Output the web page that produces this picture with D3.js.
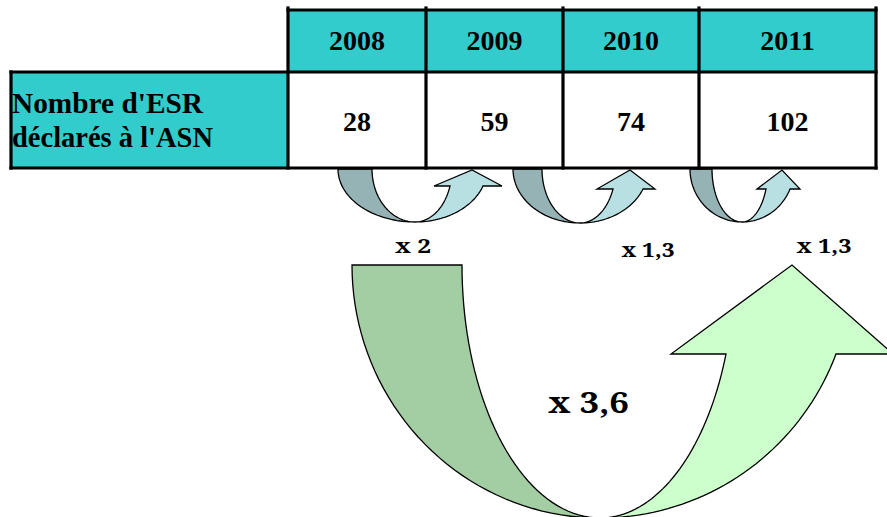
<!DOCTYPE html>
<html>
<head>
<meta charset="utf-8">
<script src="https://cdn.jsdelivr.net/npm/d3@7"></script>
<style>
  body { margin: 0; background: #fff; }
  svg { display: block; }
</style>
</head>
<body>
<svg id="chart" width="887" height="517"></svg>
<script>
// data
const years = ['2008', '2009', '2010', '2011']
const counts = [28, 59, 74, 102]
const rowLabel = ["Nombre d'ESR", "déclarés à l'ASN"]
const stepFactors = ['x 2', 'x 1,3', 'x 1,3']
const totalFactor = 'x 3,6'

// layout
const colEdges = [288, 426, 563, 699, 876]
const tableTop = 10, rowSplit = 72, tableBottom = 168, labelLeft = 11
const cyan = '#33CCCC'
const tableFont = '"Liberation Serif"'
const labelFont = '"Noto Serif"'

const svg = d3.select('#chart')

const xLeft = d3.scaleOrdinal().domain(years).range(colEdges.slice(0, -1))
const xRight = d3.scaleOrdinal().domain(years).range(colEdges.slice(1))
const xMid = (y) => (xLeft(y) + xRight(y)) / 2

// table fills
svg.append('rect')
  .attr('x', colEdges[0]).attr('y', tableTop)
  .attr('width', colEdges[4] - colEdges[0]).attr('height', rowSplit - tableTop)
  .attr('fill', cyan)
svg.append('rect')
  .attr('x', labelLeft).attr('y', rowSplit)
  .attr('width', colEdges[0] - labelLeft).attr('height', tableBottom - rowSplit)
  .attr('fill', cyan)

const lines = [
  [colEdges[0], tableTop, colEdges[4], tableTop],
  [labelLeft, rowSplit, colEdges[4], rowSplit],
  [labelLeft, tableBottom, colEdges[4], tableBottom],
  [labelLeft, rowSplit, labelLeft, tableBottom],
  ...colEdges.map((x) => [x, tableTop - 2, x, tableBottom]),
]

svg.append('g').selectAll('text')
  .data(years)
  .join('text')
  .attr('x', (d) => xMid(d))
  .attr('y', 50)
  .attr('text-anchor', 'middle')
  .style('font-family', tableFont)
  .style('font-weight', 'bold')
  .style('font-size', '28px')
  .text((d) => d)

svg.append('g').selectAll('text')
  .data(counts)
  .join('text')
  .attr('x', (d, i) => xMid(years[i]))
  .attr('y', 131)
  .attr('text-anchor', 'middle')
  .style('font-family', tableFont)
  .style('font-weight', 'bold')
  .style('font-size', '28px')
  .text((d) => d)

svg.append('g').selectAll('text')
  .data(rowLabel)
  .join('text')
  .attr('x', 12)
  .attr('y', (d, i) => 113 + i * 34)
  .attr('textLength', (d, i) => [191, 201][i])
  .attr('lengthAdjust', 'spacingAndGlyphs')
  .style('font-family', tableFont)
  .style('font-weight', 'bold')
  .style('font-size', '29px')
  .text((d) => d)

// U-turn arrows
function arc(cx, cy, rx, ry, a0, a1, n = 40) {
  return d3.range(n + 1).map((k) => {
    const a = a0 + (a1 - a0) * k / n
    return [cx + rx * Math.cos(a), cy + ry * Math.sin(a)]
  })
}

function uTurn(g, s, dark, light) {
  const ry = s.bottom - s.top
  const line = d3.line()
  // back half
  const back = arc(s.cx, s.top, s.cx - s.outerL, ry, Math.PI, Math.PI / 2)
    .concat(arc(s.cx, s.top, s.cx - s.innerL, ry, Math.PI / 2, Math.PI))
  g.append('path')
    .attr('d', line(back) + 'Z')
    .attr('fill', dark).attr('stroke', '#000').attr('stroke-width', 1.3)
  // front half with head
  const dy = s.headBase - s.top
  const aEnd = Math.asin(dy / ry)
  const k = Math.cos(aEnd)
  const front = arc(s.cx, s.top, (s.shaftOut - s.cx) / k, ry, Math.PI / 2, aEnd)
    .concat([[s.headR, s.headBase], [s.tipX, s.tipY], [s.headL, s.headBase]])
    .concat(arc(s.cx, s.top, (s.shaftIn - s.cx) / k, ry, aEnd, Math.PI / 2))
  g.append('path')
    .attr('d', line(front) + 'Z')
    .attr('fill', light).attr('stroke', '#000').attr('stroke-width', 1.3)
}

const smallArrows = [
  {top: 169, cx: 415, bottom: 222, outerL: 338, innerL: 372, headBase: 186,
    shaftIn: 450, shaftOut: 483, headL: 434, headR: 502, tipX: 472, tipY: 170},
  {top: 169, cx: 580, bottom: 223, outerL: 513, innerL: 542, headBase: 189,
    shaftIn: 613, shaftOut: 643, headL: 597, headR: 655, tipX: 630, tipY: 170},
  {top: 169, cx: 742, bottom: 222, outerL: 690, innerL: 712, headBase: 189,
    shaftIn: 766, shaftOut: 790, headL: 757, headR: 800, tipX: 782, tipY: 170},
]
const bigArrow = {top: 265, cx: 600, bottom: 518, outerL: 352, innerL: 462, headBase: 354,
  shaftIn: 726, shaftOut: 836, headL: 671, headR: 893, tipX: 792, tipY: 265}

const gArrows = svg.append('g')
smallArrows.forEach((s) => uTurn(gArrows, s, '#95B3B4', '#B8E0E2'))
uTurn(gArrows, bigArrow, '#A3CDA3', '#CCFFCC')

// table lines drawn over the arrow stems
svg.append('g').selectAll('line')
  .data(lines)
  .join('line')
  .attr('x1', (d) => d[0]).attr('y1', (d) => d[1])
  .attr('x2', (d) => d[2]).attr('y2', (d) => d[3])
  .attr('stroke', '#000')
  .attr('stroke-width', 3.2)
  .attr('stroke-linecap', 'square')

// factor labels
const stepPos = [[413, 253], [648, 257], [824, 253]]
const stepWidth = [36, 53, 55]
svg.append('g').selectAll('text')
  .data(stepFactors)
  .join('text')
  .attr('x', (d, i) => stepPos[i][0] - stepWidth[i] / 2)
  .attr('y', (d, i) => stepPos[i][1])
  .attr('textLength', (d, i) => stepWidth[i])
  .attr('lengthAdjust', 'spacingAndGlyphs')
  .style('font-family', labelFont)
  .style('font-weight', 'bold')
  .style('font-size', '19px')
  .text((d) => d)

svg.append('text')
  .attr('x', 548)
  .attr('y', 413)
  .attr('textLength', 81)
  .attr('lengthAdjust', 'spacingAndGlyphs')
  .style('font-family', labelFont)
  .style('font-weight', 'bold')
  .style('font-size', '28px')
  .text(totalFactor)
</script>
</body>
</html>
